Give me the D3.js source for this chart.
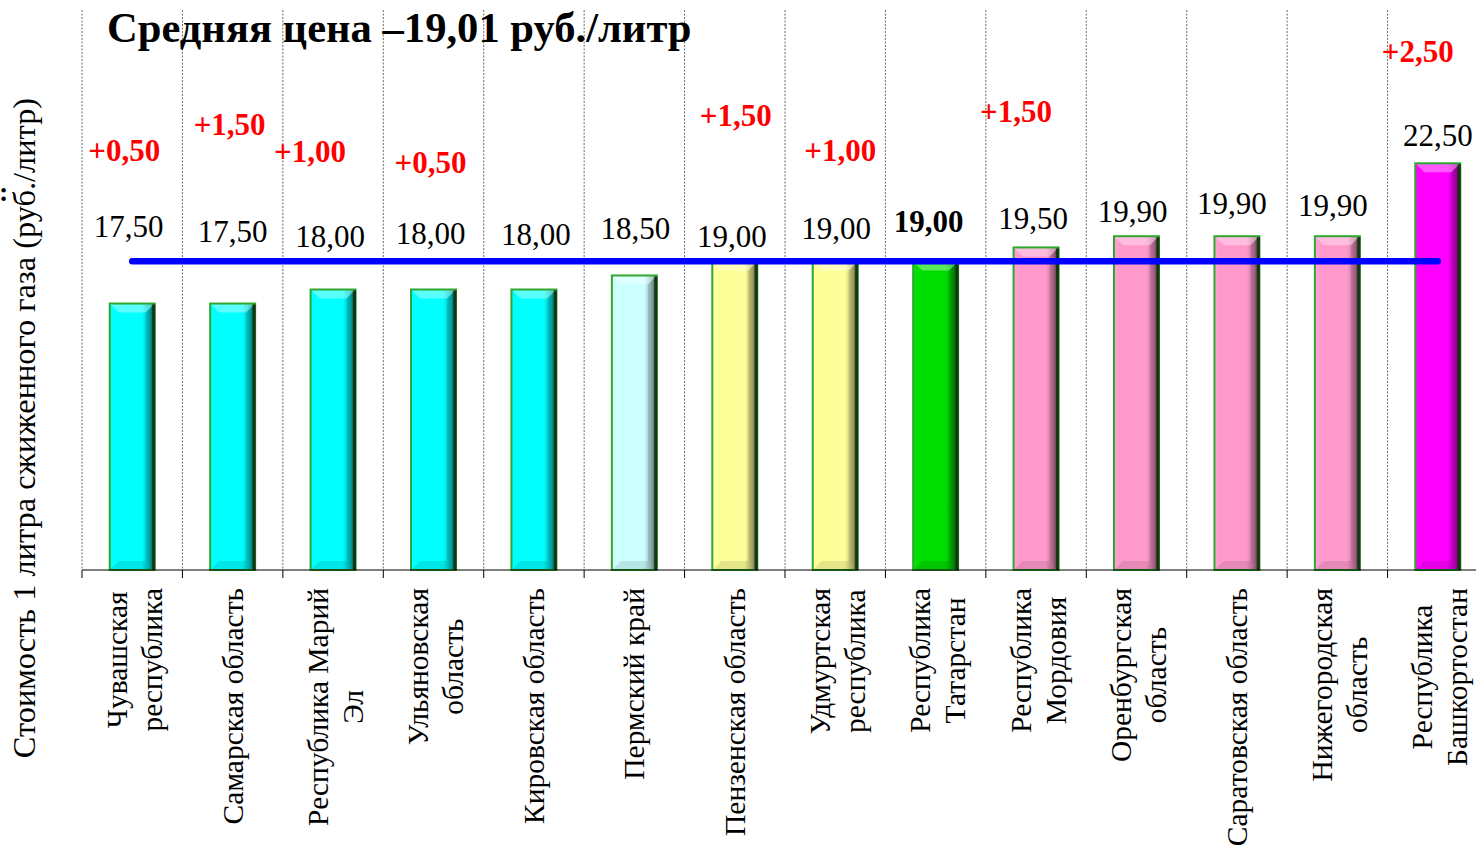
<!DOCTYPE html>
<html>
<head>
<meta charset="utf-8">
<script src="https://cdn.jsdelivr.net/npm/d3@7"></script>
<style>
  html, body { margin: 0; padding: 0; background: #fff; }
  svg { display: block; font-family: "Liberation Serif", "Times New Roman", serif; }
</style>
</head>
<body>
<svg id="chart" width="1476" height="845"></svg>
<script>
// ---------- DATA ----------
const categories = [
  "Чувашская\nреспублика",
  "Самарская область",
  "Республика Марий\nЭл",
  "Ульяновская\nобласть",
  "Кировская область",
  "Пермский край",
  "Пензенская область",
  "Удмуртская\nреспублика",
  "Республика\nТатарстан",
  "Республика\nМордовия",
  "Оренбургская\nобласть",
  "Саратовская область",
  "Нижегородская\nобласть",
  "Республика\nБашкортостан"
];
const prices  = [17.50, 17.50, 18.00, 18.00, 18.00, 18.50, 19.00, 19.00, 19.00, 19.50, 19.90, 19.90, 19.90, 22.50];
const changes = [0.50, 1.50, 1.00, 0.50, null, null, 1.50, 1.00, null, 1.50, null, null, null, 2.50];
const averagePrice = 19.01;
const yDomain = [8, 28];
const titleText = "Средняя цена –19,01 руб./литр";
const yTitleText = "Стоимость 1 литра сжиженного газа  (руб./литр)";
const boldValueIndex = 8; // Республика Татарстан

// ---------- STYLE / LAYOUT (not data) ----------
const barColors = ["#00FFFF","#00FFFF","#00FFFF","#00FFFF","#00FFFF","#CCFFFF",
                   "#FFFF99","#FFFF99","#00DD00","#FF99CC","#FF99CC","#FF99CC","#FF99CC","#FF00FF"];
const valueLabelDy  = [-67,-62,-43,-46,-45,-36,-14,-22,-29,-18,-14,-22,-20,-17];
const valueLabelDx  = [-3.5,0,-3,-3,2,1,-3,1,-7,-3,-4,-5,-4.5,0];
const changeLabelDy = [-143,-169,-128,-117,0,0,-135,-100,0,-125,0,0,0,-101];
const changeLabelDx = [-8,-3,-23,-3,0,0,1,5,0,-20,0,0,0,-20];

const fmt = v => v.toFixed(2).replace(".", ",");

const svg = d3.select("#chart");
const W = 1476, H = 845;
const plot = { left: 82, right: 1488, top: 9, bottom: 570 };

const x = d3.scaleBand().domain(d3.range(categories.length)).range([plot.left, plot.right]).padding(0);
const y = d3.scaleLinear().domain(yDomain).range([plot.bottom, plot.top]);
const barW = 45;

// gradients
const defs = svg.append("defs");
const uniqueColors = Array.from(new Set(barColors));
uniqueColors.forEach((c, i) => {
  const base = d3.color(c);
  const g = defs.append("linearGradient").attr("id", "g" + i)
    .attr("x1", "0").attr("x2", "1").attr("y1", "0").attr("y2", "0");
  g.append("stop").attr("offset", "0").attr("stop-color", base.brighter(0.15).formatHex());
  g.append("stop").attr("offset", "0.12").attr("stop-color", base.formatHex());
  g.append("stop").attr("offset", "0.72").attr("stop-color", base.formatHex());
  g.append("stop").attr("offset", "0.9").attr("stop-color", base.darker(1.0).formatHex());
  g.append("stop").attr("offset", "1").attr("stop-color", "#143014");
});
const gradId = c => "url(#g" + uniqueColors.indexOf(c) + ")";

// vertical gridlines (category boundaries)
const bounds = d3.range(categories.length + 1).map(i => plot.left + i * x.bandwidth());
svg.append("g").selectAll("line").data(bounds).join("line")
  .attr("x1", d => d).attr("x2", d => d)
  .attr("y1", 10).attr("y2", plot.bottom)
  .attr("stroke", "#6a6a6a").attr("stroke-width", 1)
  .attr("stroke-dasharray", "2,1.5");

// bars
const bars = svg.append("g");
prices.forEach((v, i) => {
  const cx = x(i) + x.bandwidth() / 2;
  const x0 = cx - barW / 2, y0 = y(v), h = plot.bottom - y(v);
  const g = bars.append("g");
  g.append("rect").attr("x", x0).attr("y", y0).attr("width", barW).attr("height", h)
    .attr("fill", gradId(barColors[i]));
  const b = 9;
  g.append("path")
    .attr("d", `M${x0},${y0} L${x0 + barW},${y0} L${x0 + barW - b},${y0 + b} L${x0 + b},${y0 + b} Z`)
    .attr("fill", "#ffffff").attr("opacity", 0.35);
  g.append("path")
    .attr("d", `M${x0},${y0 + h} L${x0 + barW},${y0 + h} L${x0 + barW - b},${y0 + h - b} L${x0 + b},${y0 + h - b} Z`)
    .attr("fill", "#000000").attr("opacity", 0.1);
  g.append("path")
    .attr("d", `M${x0 + barW},${y0} L${x0 + barW},${y0 + h} L${x0 + barW - b},${y0 + h - b} L${x0 + barW - b},${y0 + b} Z`)
    .attr("fill", "#000000").attr("opacity", 0.12);
  g.append("rect").attr("x", x0).attr("y", y0).attr("width", barW).attr("height", h)
    .attr("fill", "none").attr("stroke", "#2ea82e").attr("stroke-width", 2);
  g.append("line").attr("x1", x0 + barW - 1).attr("x2", x0 + barW - 1)
    .attr("y1", y0 + 1).attr("y2", y0 + h)
    .attr("stroke", "#153515").attr("stroke-width", 3);
});

// x axis
const xAxis = svg.append("g");
xAxis.append("line").attr("x1", plot.left).attr("x2", W).attr("y1", plot.bottom).attr("y2", plot.bottom)
  .attr("stroke", "#000").attr("stroke-width", 1.2);
xAxis.selectAll(".tick").data(bounds).join("line")
  .attr("x1", d => d).attr("x2", d => d)
  .attr("y1", plot.bottom).attr("y2", plot.bottom + 8)
  .attr("stroke", "#000").attr("stroke-width", 1);

// category labels
const catFont = 29.5, lineH = 35, labelTop = 588;
categories.forEach((c, i) => {
  const lines = c.split("\n");
  const cx = x(i) + x.bandwidth() / 2;
  const g = svg.append("g");
  const texts = lines.map((ln, k) => g.append("text").text(ln)
    .attr("font-size", catFont).attr("fill", "#000")
    .attr("text-anchor", "middle").attr("dominant-baseline", "central"));
  const maxW = d3.max(texts, t => t.node().getComputedTextLength());
  const cy = labelTop + maxW / 2;
  texts.forEach((t, k) => {
    const lx = cx + (k - (lines.length - 1) / 2) * lineH + (lines.length > 1 ? 2 : 0);
    t.attr("transform", `translate(${lx},${cy}) rotate(-90)`);
  });
});

// average line
svg.append("line")
  .attr("x1", x(0) + x.bandwidth() / 2).attr("x2", x(categories.length - 1) + x.bandwidth() / 2)
  .attr("y1", y(averagePrice)).attr("y2", y(averagePrice))
  .attr("stroke", "#0000FF").attr("stroke-width", 6.5).attr("stroke-linecap", "round");

// value labels
prices.forEach((v, i) => {
  svg.append("text")
    .attr("x", x(i) + x.bandwidth() / 2 + valueLabelDx[i])
    .attr("y", y(v) + valueLabelDy[i])
    .attr("text-anchor", "middle")
    .attr("font-size", 31)
    .attr("font-weight", i === boldValueIndex ? "bold" : "normal")
    .attr("fill", "#000")
    .text(fmt(v));
});

// change labels
changes.forEach((d, i) => {
  if (d == null) return;
  svg.append("text")
    .attr("x", x(i) + x.bandwidth() / 2 + changeLabelDx[i])
    .attr("y", y(prices[i]) + changeLabelDy[i])
    .attr("text-anchor", "middle")
    .attr("font-size", 31).attr("font-weight", "bold")
    .attr("fill", "#FF0000")
    .text("+" + fmt(d));
});

// title
svg.append("text").attr("x", 107).attr("y", 42)
  .attr("font-size", 42.6).attr("font-weight", "bold").attr("fill", "#000")
  .text(titleText);

// y axis title
svg.append("text")
  .attr("transform", `translate(24,428) rotate(-90)`)
  .attr("text-anchor", "middle").attr("dominant-baseline", "central")
  .attr("font-size", 32.4).attr("fill", "#000")
  .text(yTitleText);

// colon fragment at left edge
svg.append("text").attr("x", -1).attr("y", 201)
  .attr("font-size", 28).attr("font-weight", "bold").attr("fill", "#000")
  .text(":");
</script>
</body>
</html>
